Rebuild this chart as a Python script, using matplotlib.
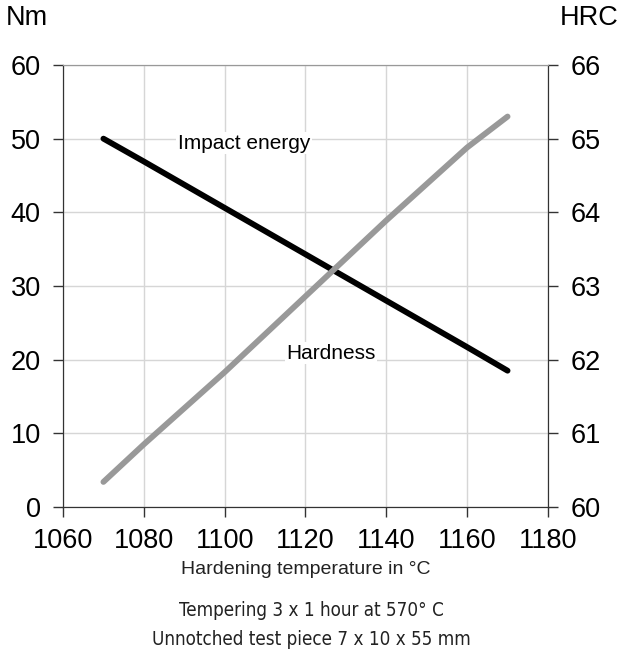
import matplotlib
matplotlib.use("Agg")
import matplotlib.pyplot as plt
from matplotlib import font_manager

# data
temp = [1070, 1080, 1100, 1120, 1140, 1160, 1170]
impact = [50.0, 46.9, 40.6, 34.3, 28.0, 21.7, 18.5]            # Nm
hardness = [60.34, 60.85, 61.83, 62.86, 63.89, 64.88, 65.30]   # HRC

x_ticks = [1060, 1080, 1100, 1120, 1140, 1160, 1180]
nm_ticks = [0, 10, 20, 30, 40, 50, 60]
hrc_ticks = [60, 61, 62, 63, 64, 65, 66]

plt.rcParams['font.family'] = ['Liberation Sans', 'DejaVu Sans']

# condensed font for the notes under the chart
names = set(f.name for f in font_manager.fontManager.ttflist)
if 'Liberation Sans Narrow' in names:
    note_font = dict(family=['Liberation Sans Narrow', 'DejaVu Sans'], fontsize=16)
else:
    note_font = dict(family=['DejaVu Sans'], fontstretch='condensed', fontsize=13.5)

fig = plt.figure(figsize=(6.22, 6.55), dpi=100)
ax = fig.add_axes([0.1013, 0.226, 0.7797, 0.6748])
ax2 = ax.twinx()

ax.plot(temp, impact, color='black', lw=4.2, solid_capstyle='round',
        solid_joinstyle='round', zorder=3)
ax2.plot(temp, hardness, color='#999999', lw=4.2, solid_capstyle='round',
         solid_joinstyle='round', zorder=3)

ax.set_xlim(1060, 1180)
ax.set_ylim(0, 60)
ax2.set_ylim(60, 66)
ax.set_xticks(x_ticks)
ax.set_yticks(nm_ticks)
ax2.set_yticks(hrc_ticks)

ax.grid(True, color='#d6d6d6', lw=1)
ax.set_axisbelow(True)

for a in (ax, ax2):
    a.tick_params(labelsize=19.5, length=7, width=1, color='#333333')
    for s in a.spines.values():
        s.set_color('#333333')
    a.spines['top'].set_color('#999999')
ax.tick_params(axis='y', pad=9)
ax2.tick_params(axis='y', pad=9)
ax.tick_params(axis='x', pad=8)

fig.text(0.0096, 0.9725, 'Nm', fontsize=19.5, ha='left', va='center')
fig.text(0.9936, 0.9725, 'HRC', fontsize=19.5, ha='right', va='center')

bb = dict(facecolor='white', edgecolor='none', pad=1)
ax.text(1088.4, 48.6, 'Impact energy', fontsize=15, ha='left', va='baseline', bbox=bb, zorder=2)
ax.text(1115.3, 20.1, 'Hardness', fontsize=15, ha='left', va='baseline', bbox=bb, zorder=2)

fig.text(0.492, 0.131, 'Hardening temperature in °C', ha='center', va='center',
         fontsize=14, color='#222222')
fig.text(0.5, 0.068, 'Tempering 3 x 1 hour at 570° C', ha='center', va='center',
         color='#222222', **note_font)
fig.text(0.5, 0.024, 'Unnotched test piece 7 x 10 x 55 mm', ha='center', va='center',
         color='#222222', **note_font)

fig.savefig('out.png', dpi=100)
